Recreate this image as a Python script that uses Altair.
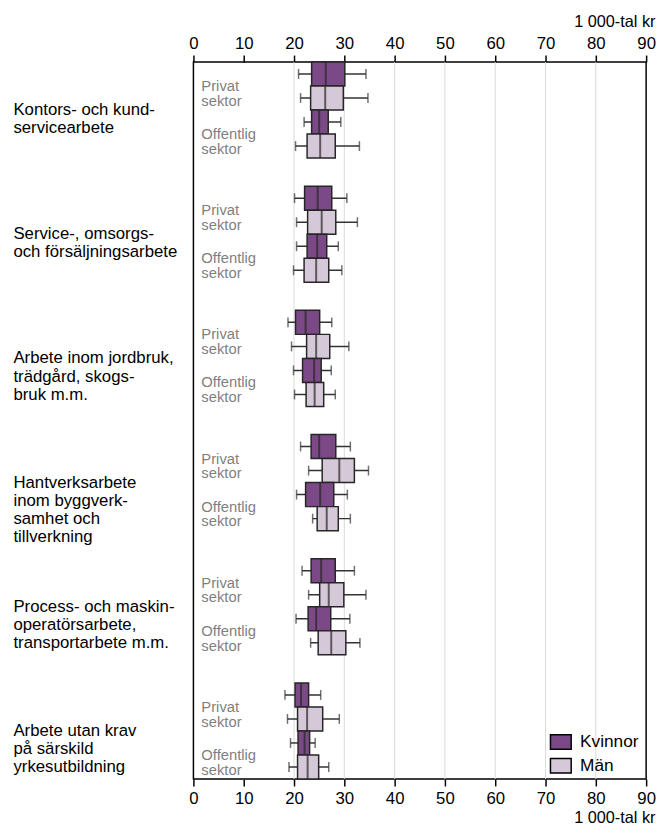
import altair as alt
import pandas as pd

groups = [
    "Kontors- och kund-\nservicearbete",
    "Service-, omsorgs-\noch försäljningsarbete",
    "Arbete inom jordbruk,\nträdgård, skogs-\nbruk m.m.",
    "Hantverksarbete\ninom byggverk-\nsamhet och\ntillverkning",
    "Process- och maskin-\noperatörsarbete,\ntransportarbete m.m.",
    "Arbete utan krav\npå särskild\nyrkesutbildning",
]
sectors = ["Privat sektor", "Offentlig sektor"]
sector_labels = ["Privat\nsektor", "Offentlig\nsektor"]
genders = ["Kvinnor", "Män"]

# order per group: Privat-Kvinnor, Privat-Män, Offentlig-Kvinnor, Offentlig-Män
whisker_low = [20.9, 21.3, 22.0, 20.3, 20.1, 20.5, 20.5, 19.9, 18.8, 19.5, 19.9, 20.1,
               21.3, 22.9, 20.5, 23.7, 21.6, 22.9, 20.4, 23.3, 18.2, 18.7, 19.3, 19.0]
q1 = [23.5, 23.3, 23.5, 22.6, 22.1, 22.7, 22.6, 22.0, 20.3, 22.5, 21.7, 22.4,
      23.4, 25.6, 22.3, 24.6, 23.4, 25.1, 22.8, 24.8, 20.2, 20.7, 20.8, 20.7]
median = [26.3, 26.2, 25.0, 25.2, 24.7, 25.5, 24.6, 24.4, 22.3, 24.4, 24.0, 24.1,
          25.0, 29.0, 25.2, 26.5, 25.4, 26.9, 24.4, 27.4, 21.4, 22.6, 22.1, 22.7]
q3 = [30.1, 29.8, 26.8, 28.2, 27.5, 28.3, 26.5, 26.9, 25.1, 27.1, 25.4, 25.9,
      28.3, 32.0, 27.9, 28.8, 28.2, 29.9, 27.3, 30.3, 22.9, 25.7, 23.1, 24.9]
whisker_high = [34.3, 34.7, 29.3, 33.0, 30.5, 32.6, 28.8, 29.5, 27.5, 30.9, 27.4, 28.2,
                31.2, 34.8, 30.6, 31.2, 32.0, 34.3, 31.1, 33.1, 25.3, 29.0, 24.2, 26.9]
grid_values = [20, 30, 40, 50, 60, 70, 80]
x_ticks = [0, 10, 20, 30, 40, 50, 60, 70, 80, 90]
unit = "1 000-tal kr"

row_keys = [f"{s}|{g}" for s in sectors for g in genders]

records = []
i = 0
for grp in groups:
    for s in sectors:
        for g in genders:
            records.append(dict(group=grp, row=f"{s}|{g}", gender=g,
                                lo=whisker_low[i], q1=q1[i], med=median[i],
                                q3=q3[i], hi=whisker_high[i]))
            i += 1
df = pd.DataFrame(records)

lab_records = []
for grp in groups:
    for s, sl in zip(sectors, sector_labels):
        lab_records.append(dict(group=grp, row=f"{s}|{genders[0]}", label=sl))
lab_df = pd.DataFrame(lab_records)
grid_df = pd.DataFrame({"v": grid_values})

FONT = "Liberation Sans"
xscale = alt.Scale(domain=[0, 90], nice=False, zero=False)

y_axis = alt.Axis(title=None, domain=False, ticks=False, tickSize=0,
                  labelAlign="left", labelBaseline="middle", labelPadding=183,
                  labelFontSize=17, labelColor="black", labelFont=FONT,
                  labelLineHeight=18.5, labelExpr="split(datum.label, '\\n')",
                  labelLimit=400)
y_enc = alt.Y("group:N", sort=groups,
              scale=alt.Scale(paddingInner=0.226, paddingOuter=0), axis=y_axis)
yoff = alt.YOffset("row:N", sort=row_keys,
                   scale=alt.Scale(paddingInner=0, paddingOuter=0))

def x_axis(orient, title_y, label_pad):
    return alt.Axis(orient=orient, values=x_ticks, grid=False, domain=False,
                    ticks=True, tickSize=7, tickColor="black", tickWidth=1.5,
                    labelFontSize=17, labelColor="black", labelFont=FONT,
                    labelPadding=label_pad, labelFlush=False,
                    title=unit, titleFont=FONT, titleFontSize=16.5,
                    titleFontWeight="normal", titleColor="black",
                    titleX=468, titleY=title_y, titleAlign="right",
                    titleBaseline="middle", titleAnchor="end")

grid = alt.Chart(grid_df).mark_rule(color="#d9d9d9", strokeWidth=1).encode(
    x=alt.X("v:Q", scale=xscale, axis=x_axis("top", -41, 3))
)

base = alt.Chart(df)

whisk = base.mark_rule(color="#333333", strokeWidth=1.5).encode(
    x=alt.X("lo:Q", scale=xscale, axis=None), x2="hi:Q", y=y_enc, yOffset=yoff
)
cap_lo = base.mark_tick(color="#333333", thickness=1.5, size=10).encode(
    x=alt.X("lo:Q", scale=xscale, axis=None), y=y_enc, yOffset=yoff
)
cap_hi = base.mark_tick(color="#333333", thickness=1.5, size=10).encode(
    x=alt.X("hi:Q", scale=xscale, axis=None), y=y_enc, yOffset=yoff
)
box = base.mark_bar(stroke="#262626", strokeWidth=1.5).encode(
    x=alt.X("q1:Q", scale=xscale, axis=x_axis("bottom", 39, 5)),
    x2="q3:Q", y=y_enc, yOffset=yoff,
    color=alt.Color("gender:N",
                    scale=alt.Scale(domain=genders, range=["#7b4a86", "#d5c8d8"]),
                    legend=alt.Legend(title=None, orient="none", legendX=361, legendY=678,
                                      symbolType="M-1,-0.7H1V0.7H-1Z", symbolSize=441,
                                      symbolStrokeColor="black", symbolStrokeWidth=1.5,
                                      labelFontSize=17.5, labelFont=FONT, labelColor="black",
                                      labelOffset=8, rowPadding=2)),
)
med = base.mark_tick(color="#262626", thickness=2, size=24).encode(
    x=alt.X("med:Q", scale=xscale, axis=None), y=y_enc, yOffset=yoff
)
sec = alt.Chart(lab_df).mark_text(align="left", baseline="middle", dy=12.2,
                                  fontSize=15, font=FONT, color="#7f7f7f",
                                  lineBreak="\n", lineHeight=15).encode(
    x=alt.value(8), y=y_enc, yOffset=yoff, text="label:N"
)

chart = alt.layer(grid, whisk, cap_lo, cap_hi, box, med, sec).resolve_axis(
    x="independent"
).properties(
    width=459, height=727,
    padding={"left": 5, "top": 0, "right": 0, "bottom": 0}
).configure_view(stroke="black", strokeWidth=1.5)

chart.save("out.html", embed_options={"renderer": "svg", "actions": False})
